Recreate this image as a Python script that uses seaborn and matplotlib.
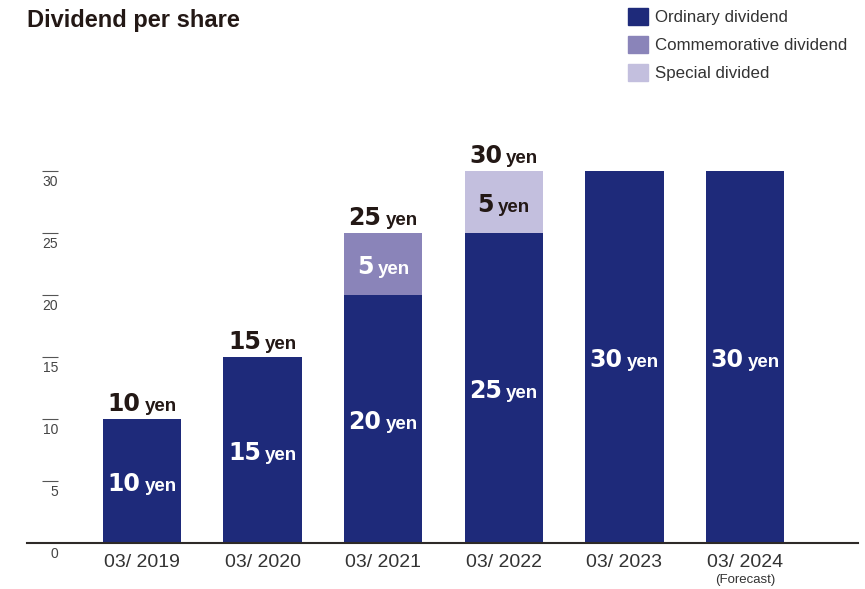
import matplotlib
matplotlib.use("Agg")
import matplotlib.pyplot as plt
import seaborn as sns
import pandas as pd
from matplotlib.offsetbox import TextArea, HPacker, AnnotationBbox
from matplotlib.patches import Patch

# Dividend per share, split by type of dividend (yen)
periods = ["03/ 2019", "03/ 2020", "03/ 2021", "03/ 2022", "03/ 2023", "03/ 2024"]
ordinary = [10, 15, 20, 25, 30, 30]
commemorative = [0, 0, 5, 0, 0, 0]
special = [0, 0, 0, 5, 0, 0]
show_total = [True, True, True, True, False, False]
forecast_note = "(Forecast)"
yticks = [5, 10, 15, 20, 25, 30]
unit = "yen"
series_names = ["Ordinary dividend", "Commemorative dividend", "Special divided"]

sns.set_theme(style="white")
plt.rcParams["font.family"] = ["Liberation Sans", "DejaVu Sans"]

C_ORD = "#1e2a7a"
C_COM = "#8a84b9"
C_SPE = "#c3bfde"
DARK = "#231815"
TEXT = "#333333"

df = pd.DataFrame({"period": periods, "ordinary": ordinary,
                   "commemorative": commemorative, "special": special})
df["ord_com"] = df["ordinary"] + df["commemorative"]
df["total"] = df["ord_com"] + df["special"]

fig = plt.figure(figsize=(8.65, 5.89), dpi=100)
ax = fig.add_axes([27 / 865, 46 / 589, 831 / 865, 483 / 589])

# stacked bars: draw cumulative heights from the top layer down
for col, color in [("total", C_SPE), ("ord_com", C_COM), ("ordinary", C_ORD)]:
    sns.barplot(data=df, x="period", y=col, color=color, width=0.65,
                linewidth=0, saturation=1, errorbar=None, ax=ax)

ax.set_xlim(-0.9536, 5.937)
ax.set_ylim(0, 38.95)
ax.set_xlabel("")
ax.set_ylabel("")
ax.set_yticks([])
for s in ("left", "top", "right"):
    ax.spines[s].set_visible(False)
ax.spines["bottom"].set_color("#2e2a28")
ax.spines["bottom"].set_linewidth(1.5)
ax.tick_params(axis="x", length=0, pad=8, labelsize=14, labelcolor=TEXT)

# y scale: short stubs with the value below each
ytr = ax.get_yaxis_transform()
ax.hlines(yticks, 0.018, 0.0373, transform=ytr, color="#555555", linewidth=0.8)
for v in [0] + yticks:
    ax.annotate(str(v), xy=(0.0373, v), xycoords=ytr, xytext=(0, -3),
                textcoords="offset points", ha="right", va="top",
                fontsize=10, color="#444444")


def value_label(x, y, number, color, offset, valign):
    num = TextArea(str(number), textprops=dict(fontsize=17, fontweight="bold",
                                               color=color, family="DejaVu Sans"))
    yen = TextArea(unit, textprops=dict(fontsize=13.5, fontweight="bold", color=color))
    box = HPacker(children=[num, yen], align="baseline", pad=0, sep=3)
    ab = AnnotationBbox(box, (x, y), xybox=(0, offset), xycoords="data",
                        boxcoords="offset points", box_alignment=(0.5, valign),
                        frameon=False, pad=0)
    ax.add_artist(ab)


for i in range(len(periods)):
    o, c, s = ordinary[i], commemorative[i], special[i]
    value_label(i, o / 2, o, "white", -2.5, 0.5)
    if c:
        value_label(i, o + c / 2, c, "white", -2.5, 0.5)
    if s:
        value_label(i, o + c + s / 2, s, DARK, -2.5, 0.5)
    if show_total[i]:
        value_label(i, o + c + s, o + c + s, DARK, 2.5, 0)

ax.annotate(forecast_note, xy=(5, 0), xycoords="data", xytext=(0, -22.5),
            textcoords="offset points", ha="center", va="top",
            fontsize=9.5, color=TEXT)

fig.text(27 / 865, 1 - 21 / 589, "Dividend per share", fontsize=17,
         fontweight="bold", color=DARK, va="center", ha="left")

handles = [Patch(color=C_ORD), Patch(color=C_COM), Patch(color=C_SPE)]
fig.legend(handles, series_names, loc="upper left",
           bbox_to_anchor=(628 / 865, 1 - 8 / 589), frameon=False,
           fontsize=12.2, labelcolor=TEXT, handlelength=1.18, handleheight=1.18,
           handletextpad=0.4, labelspacing=0.62, borderpad=0, borderaxespad=0)

fig.savefig("out.png", dpi=100)
